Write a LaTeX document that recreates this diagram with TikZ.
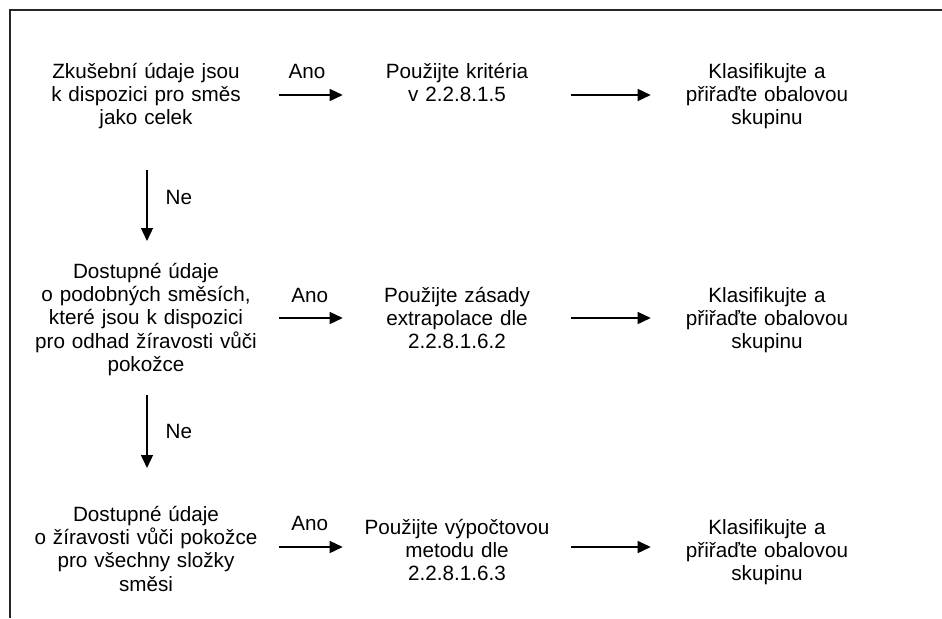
\documentclass[tikz,border=0pt]{standalone}
\usepackage{fontspec}
\setmainfont{Liberation Sans}
\usetikzlibrary{arrows.meta}
\begin{document}
\begin{tikzpicture}[x=0.75pt,y=-0.75pt,
  txt/.style={inner sep=0pt, align=center, anchor=base, font=\fontsize{15.5}{17.5}\selectfont},
  colA/.style={txt, text width=199.5pt},
  colB/.style={txt, text width=171pt},
  colC/.style={txt, text width=174pt},
  lbl/.style={inner sep=0pt, font=\fontsize{15.5}{17.5}\selectfont},
  arr/.style={draw=black, line width=1pt, -{Triangle[length=9.75pt,width=9pt]}},
  framel/.style={draw=black!85, line width=1.2pt}]
\useasboundingbox (0,0) rectangle (942,618);
\draw[framel] (942,10) -- (10,10) -- (10,618);

% row 1
\node[colA] (a1) at (146,78) {Zkušební údaje jsou\\k dispozici pro směs\\jako celek};
\node[colB] (b1) at (457,78) {Použijte kritéria\\v 2.2.8.1.5};
\node[colC] (c1) at (767,78) {Klasifikujte a\\přiřaďte obalovou\\skupinu};
% row 2
\node[colA] (a2) at (146,278) {Dostupné údaje\\o podobných směsích,\\které jsou k dispozici\\pro odhad žíravosti vůči\\pokožce};
\node[colB] (b2) at (457,302) {Použijte zásady\\extrapolace dle\\2.2.8.1.6.2};
\node[colC] (c2) at (767,302) {Klasifikujte a\\přiřaďte obalovou\\skupinu};
% row 3
\node[colA] (a3) at (146,521) {Dostupné údaje\\o žíravosti vůči pokožce\\pro všechny složky\\směsi};
\node[colB] (b3) at (457,534) {Použijte výpočtovou\\metodu dle\\2.2.8.1.6.3};
\node[colC] (c3) at (767,534) {Klasifikujte a\\přiřaďte obalovou\\skupinu};

% arrow rows
\coordinate (r1) at ([yshift=-12.75pt]a1.base east);
\coordinate (r2) at ([yshift=-30pt]a2.base east);
\coordinate (r3) at ([yshift=-19.5pt]a3.base east);

\draw[arr] (r1) -- (r1 -| b1.west) node[lbl, midway, anchor=base, yshift=12.5pt, xshift=-3pt] {Ano};
\draw[arr] (r1 -| b1.east) -- (r1 -| c1.west);
\draw[arr] (r2) -- (r2 -| b2.west) node[lbl, midway, anchor=base, yshift=12pt, xshift=-1pt] {Ano};
\draw[arr] (r2 -| b2.east) -- (r2 -| c2.west);
\draw[arr] (r3) -- (r3 -| b3.west) node[lbl, midway, anchor=base, yshift=12.5pt, xshift=-1pt] {Ano};
\draw[arr] (r3 -| b3.east) -- (r3 -| c3.west);

% vertical arrows
\coordinate (v1s) at ([xshift=0.75pt,yshift=-69pt]a1.base);
\coordinate (v1e) at ([xshift=0.75pt,yshift=27.75pt]a2.base);
\coordinate (v2s) at ([xshift=0.75pt,yshift=-87.75pt]a2.base);
\coordinate (v2e) at ([xshift=0.75pt,yshift=39.75pt]a3.base);
\draw[arr] (v1s) -- (v1e) node[lbl, pos=0.49, anchor=base west, xshift=13.5pt] {Ne};
\draw[arr] (v2s) -- (v2e) node[lbl, pos=0.6, anchor=base west, xshift=13.5pt] {Ne};
\end{tikzpicture}
\end{document}
